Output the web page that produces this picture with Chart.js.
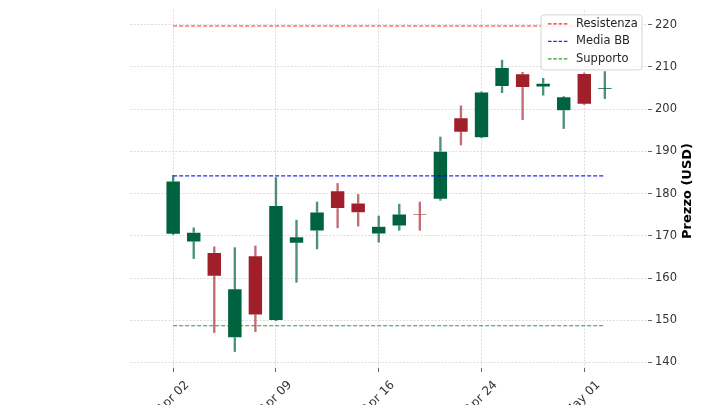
<!DOCTYPE html>
<html>
<head>
<meta charset="utf-8">
<script src="https://cdn.jsdelivr.net/npm/chart.js@4.4.1/dist/chart.umd.min.js"></script>
<style>
  html, body { margin: 0; padding: 0; background: #fff; }
  #wrap { width: 720px; height: 405px; }
</style>
</head>
<body>
<div id="wrap"><canvas id="candles" width="720" height="405"></canvas></div>
<script>
'use strict';

// trading days shown on the x axis
const dates = ['Apr 02', 'Apr 03', 'Apr 04', 'Apr 05', 'Apr 08', 'Apr 09', 'Apr 10', 'Apr 11',
  'Apr 12', 'Apr 15', 'Apr 16', 'Apr 17', 'Apr 18', 'Apr 19', 'Apr 22', 'Apr 24', 'Apr 25',
  'Apr 26', 'Apr 29', 'Apr 30', 'May 01', 'May 02'];
const tickDays = [0, 5, 10, 15, 20];

const opens  = [170.4, 168.6, 166.0, 145.9, 165.2, 150.0, 168.3, 171.2, 180.6, 177.7, 170.5,
  172.4, 175.2, 178.7, 197.9, 193.3, 205.4, 208.3, 205.3, 199.7, 208.4, 204.8];
const closes = [182.9, 170.8, 160.5, 157.4, 151.3, 177.1, 169.7, 175.6, 176.5, 175.5, 172.2,
  175.1, 175.0, 190.0, 194.6, 204.0, 209.8, 205.2, 206.1, 202.9, 201.2, 205.0];
const highs  = [184.3, 171.9, 167.4, 167.2, 167.6, 183.8, 173.7, 178.0, 182.4, 179.8, 174.7,
  177.5, 178.0, 193.4, 200.8, 204.1, 211.6, 208.7, 207.3, 203.0, 208.6, 208.9];
const lows   = [170.3, 164.6, 147.1, 142.6, 147.3, 149.9, 159.0, 166.9, 171.9, 172.3, 168.5,
  171.3, 171.3, 178.4, 191.5, 193.2, 203.9, 197.5, 203.3, 195.4, 201.1, 202.5];

const resistenza = 219.7;
const mediaBB = 184.2;
const supporto = 148.7;

const upColor = '#00633f';
const downColor = '#a11f2a';
const upWick = 'rgba(0,99,63,0.7)';
const downWick = 'rgba(161,31,42,0.65)';

const isUp = opens.map((o, i) => closes[i] >= o);

const flatLine = (v) => [{x: 0, y: v}, {x: dates.length - 1, y: v}];

// legend box drawn inside the plot, top right (like matplotlib)
const legendBox = {
  id: 'legendBox',
  afterDatasetsDraw(chart) {
    const ctx = chart.ctx;
    const ca = chart.chartArea;
    const items = chart.data.datasets.filter(d => d.type === 'line');
    const left = ca.right - 107, top = ca.top + 5, w = 101, h = 55;
    ctx.save();
    ctx.beginPath();
    ctx.roundRect(left, top, w, h, 3);
    ctx.fillStyle = 'rgba(255,255,255,0.85)';
    ctx.fill();
    ctx.strokeStyle = '#d5d5d5';
    ctx.lineWidth = 1;
    ctx.stroke();
    ctx.font = '11.5px "DejaVu Sans"';
    ctx.textBaseline = 'middle';
    items.forEach((d, i) => {
      const y = top + 9 + i * 17.5;
      ctx.beginPath();
      ctx.setLineDash([3.5, 1.8]);
      ctx.strokeStyle = d.borderColor;
      ctx.lineWidth = 1.2;
      ctx.moveTo(left + 7, y);
      ctx.lineTo(left + 27, y);
      ctx.stroke();
      ctx.setLineDash([]);
      ctx.fillStyle = '#262626';
      ctx.fillText(d.label, left + 35, y);
    });
    ctx.restore();
  }
};

// y axis title reads bottom-to-top on the right side
const yTitle = {
  id: 'yTitle',
  afterDraw(chart) {
    const ctx = chart.ctx;
    const ca = chart.chartArea;
    ctx.save();
    ctx.translate(688, (ca.top + ca.bottom) / 2 + 2);
    ctx.rotate(-Math.PI / 2);
    ctx.font = 'bold 13px "DejaVu Sans"';
    ctx.fillStyle = '#000';
    ctx.textAlign = 'center';
    ctx.textBaseline = 'middle';
    ctx.fillText('Prezzo (USD)', 0, 0);
    ctx.restore();
  }
};

let ctx = document.getElementById('candles').getContext('2d');
new Chart(ctx, {
  type: 'bar',
  data: {
    datasets: [
      {
        type: 'line', label: 'Resistenza', data: flatLine(resistenza),
        borderColor: 'rgba(255,0,0,0.85)', borderWidth: 1.1, borderDash: [4, 2],
        pointRadius: 0, order: 0
      },
      {
        type: 'line', label: 'Media BB', data: flatLine(mediaBB),
        borderColor: 'rgba(0,0,255,0.85)', borderWidth: 1.1, borderDash: [4, 2],
        pointRadius: 0, order: 0
      },
      {
        type: 'line', label: 'Supporto', data: flatLine(supporto),
        borderColor: 'rgba(0,128,0,0.8)', borderWidth: 1.1, borderDash: [4, 2],
        pointRadius: 0, order: 0
      },
      {
        label: 'body',
        data: opens.map((o, i) => ({x: i, y: [o, closes[i]]})),
        backgroundColor: isUp.map(u => u ? upColor : downColor),
        borderColor: 'rgba(255,255,255,0.35)',
        borderWidth: 0.6,
        borderSkipped: false,
        barThickness: 14,
        grouped: false,
        order: 1
      },
      {
        label: 'wick',
        data: lows.map((l, i) => ({x: i, y: [l, highs[i]]})),
        backgroundColor: isUp.map(u => u ? upWick : downWick),
        borderWidth: 0,
        barThickness: 1.7,
        grouped: false,
        order: 2
      }
    ]
  },
  options: {
    responsive: false,
    animation: false,
    layout: { padding: { left: 130, top: 7, right: 0, bottom: 0 } },
    plugins: {
      legend: { display: false },
      tooltip: { enabled: false }
    },
    scales: {
      x: {
        type: 'linear',
        offset: false,
        min: -2.1,
        max: 23.1,
        afterBuildTicks: (scale) => {
          scale.ticks = tickDays.map(v => ({value: v}));
        },
        afterFit: (scale) => { scale.height = 37; },
        ticks: {
          autoSkip: false,
          minRotation: 45,
          maxRotation: 45,
          padding: 6,
          labelOffset: 14, // matplotlib centres rotated labels on the tick
          color: '#333',
          font: { family: 'DejaVu Sans', size: 12 },
          callback: (v) => dates[v]
        },
        grid: {
          offset: false,
          color: '#d4d4d4',
          lineWidth: 0.8,
          tickLength: 4,
          tickColor: '#666',
          tickWidth: 1
        },
        border: { display: false, dash: [2, 1.5] }
      },
      y: {
        position: 'right',
        min: 138.7,
        max: 223.5,
        afterFit: (scale) => { scale.width = 72; },
        ticks: {
          stepSize: 10,
          includeBounds: false,
          padding: 3,
          color: '#333',
          font: { family: 'DejaVu Sans', size: 11.5 }
        },
        grid: {
          color: '#d4d4d4',
          lineWidth: 0.8,
          tickLength: 4,
          tickColor: '#666',
          tickWidth: 1
        },
        border: { display: false, dash: [2, 1.5] }
      }
    }
  },
  plugins: [legendBox, yTitle]
});
</script>
</body>
</html>
